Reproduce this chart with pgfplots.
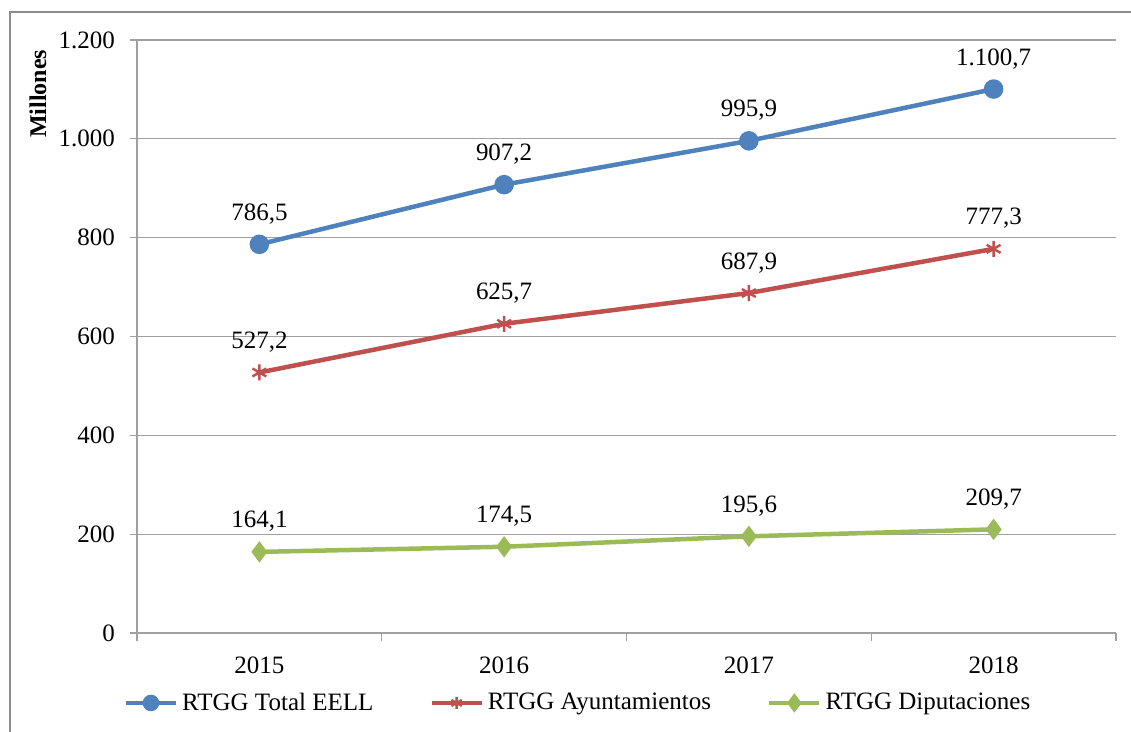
\documentclass[border=0pt]{standalone}
\usepackage{fontspec}
\setmainfont{Liberation Serif}
\usepackage{pgfplots}
\pgfplotsset{compat=1.18}
\definecolor{cBlue}{RGB}{79,129,189}
\definecolor{cRed}{RGB}{192,80,77}
\definecolor{cGreen}{RGB}{155,187,89}
\definecolor{cGrid}{RGB}{160,160,160}
\definecolor{cFrame}{RGB}{140,140,140}
\begin{document}
\begin{tikzpicture}
\useasboundingbox (0pt,0pt) rectangle (565.5pt,366pt);
\draw[cFrame, line width=1pt] (5pt,0pt) -- (5pt,360pt) -- (565.5pt,360pt);
\node[rotate=90, font=\bfseries\fontsize{12}{14}\selectfont] at (19pt,319pt) {Millones};
\begin{axis}[
  at={(68.5pt,49.5pt)}, anchor=south west,
  scale only axis, width=489.5pt, height=296.5pt,
  xmin=-0.5, xmax=3.5, ymin=0, ymax=1200,
  axis x line*=bottom, axis y line*=left,
  axis line style={cGrid, line width=0.6pt, -},
  xtick={0,1,2,3}, xticklabels={2015,2016,2017,2018},
  minor xtick={-0.5,0.5,1.5,2.5,3.5},
  major x tick style={draw=none},
  minor x tick style={cGrid, line width=0.6pt},
  minor tick length=4pt,
  ytick={0,200,400,600,800,1000,1200},
  yticklabels={0,200,400,600,800,{1.000},{1.200}},
  y tick style={cGrid, line width=0.6pt},
  major tick length=3.5pt,
  tick align=outside,
  ymajorgrids, grid style={cGrid, line width=0.6pt},
  ticklabel style={font=\fontsize{12.5}{14}\selectfont},
  yticklabel style={xshift=-4pt},
  xticklabel style={yshift=-5pt},
  nodes near coords,
  point meta=explicit symbolic,
  every node near coord/.append style={anchor=base, yshift=12pt, inner sep=0pt, font=\fontsize{12.5}{14}\selectfont, text=black},
  legend columns=3,
  legend style={draw=none, fill=none, at={(0.4515,-0.118)}, anchor=center,
    font=\fontsize{12.5}{14}\selectfont,
    /tikz/every even column/.append style={column sep=26pt}},
  legend image code/.code={\draw[mark repeat=2, mark phase=2, mark size=3pt] plot coordinates {(0pt,0pt) (12.5pt,0pt) (25pt,0pt)};},
]
\addplot[cBlue, line width=2.25pt, mark=*, mark size=3.75pt, mark options={fill=cBlue}]
 table[row sep=\\, meta=lab] {x y lab\\ 0 786.5 786,5\\ 1 907.2 907,2\\ 2 995.9 995,9\\ 3 1100.7 1.100,7\\};
\addlegendentry{RTGG Total EELL}
\addplot[cRed, line width=2.25pt, mark=asterisk, mark size=4pt, mark options={line width=1.2pt}]
 table[row sep=\\, meta=lab] {x y lab\\ 0 527.2 527,2\\ 1 625.7 625,7\\ 2 687.9 687,9\\ 3 777.3 777,3\\};
\addlegendentry{RTGG Ayuntamientos}
\addplot[cGreen, line width=2.25pt, mark=diamond*, mark size=3.5pt, mark options={fill=cGreen}]
 table[row sep=\\, meta=lab] {x y lab\\ 0 164.1 164,1\\ 1 174.5 174,5\\ 2 195.6 195,6\\ 3 209.7 209,7\\};
\addlegendentry{RTGG Diputaciones}
\end{axis}
\end{tikzpicture}
\end{document}
